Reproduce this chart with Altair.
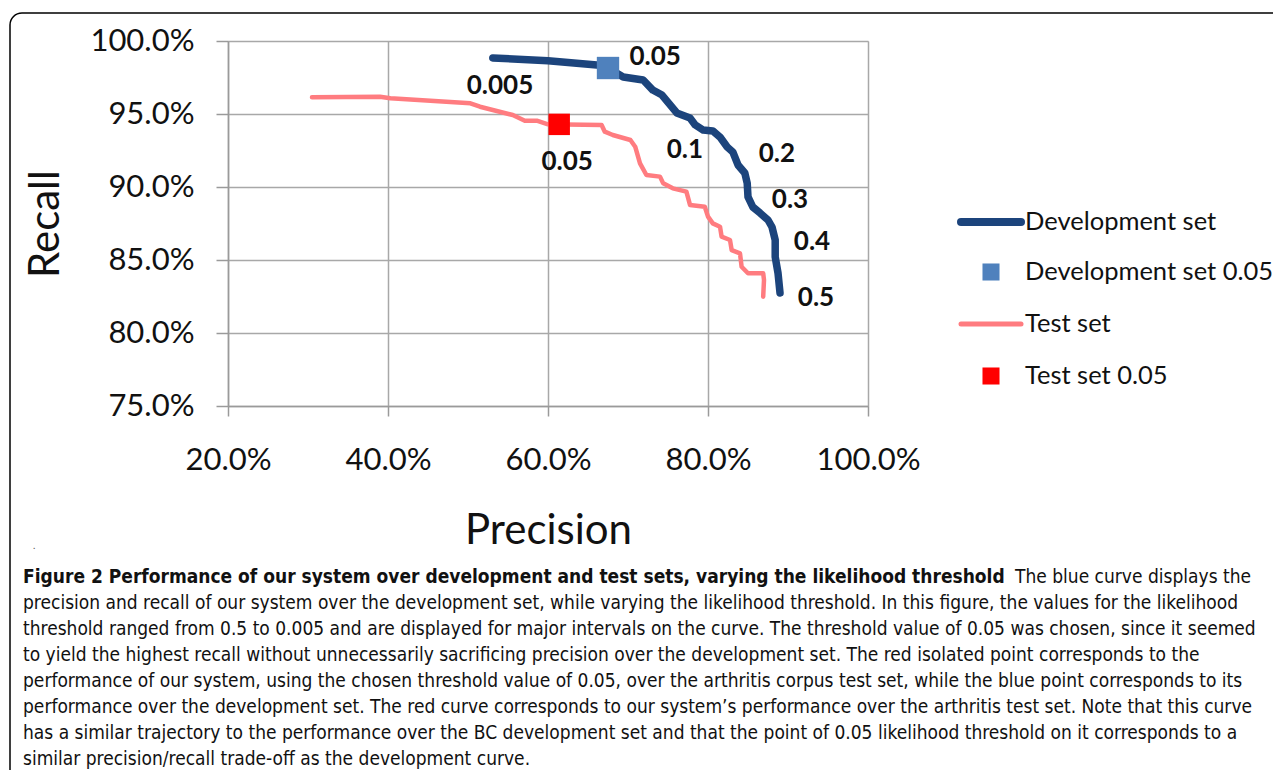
import altair as alt
import pandas as pd

# ---- data (precision, recall in %) ----
dev_precision = [53.1, 60.0, 66.1, 67.5, 69.4, 71.9, 73.1, 74.25, 76.1, 77.75, 78.4, 79.4, 80.6, 81.5,
                 82.4, 83.1, 83.75, 84.6, 84.9, 85.0, 85.6, 86.5, 87.5, 88.0, 88.4, 88.4, 88.75, 89.0]
dev_recall = [98.84, 98.65, 98.36, 98.15, 97.53, 97.33, 96.64, 96.30, 95.07, 94.73, 94.25, 93.90, 93.84, 93.42,
              92.74, 92.40, 91.51, 90.96, 90.27, 89.32, 88.63, 88.22, 87.74, 87.26, 86.37, 85.21, 84.11, 82.74]

test_precision = [30.5, 39.0, 40.3, 50.3, 51.5, 55.6, 57.1, 58.6, 60.0, 66.7, 67.1, 68.1, 70.3, 70.9, 71.5,
                  72.3, 74.0, 74.4, 75.6, 77.3, 77.75, 79.6, 80.0, 80.6, 81.5, 81.7, 82.75, 82.96, 84.0,
                  84.2, 85.0, 86.9, 87.0, 86.9]
test_recall = [96.15, 96.18, 96.08, 95.73, 95.50, 94.93, 94.54, 94.54, 94.29, 94.25, 93.79, 93.56, 93.22, 92.76,
               91.62, 90.82, 90.71, 90.25, 89.91, 89.68, 88.77, 88.65, 87.97, 87.51, 87.28, 86.60, 86.37, 85.68,
               85.45, 84.54, 84.09, 84.09, 83.63, 82.49]

point_series = ["Development set 0.05", "Test set 0.05"]
point_precision = [67.5, 61.4]
point_recall = [98.15, 94.29]

label_text = ["0.005", "0.05", "0.05", "0.1", "0.2", "0.3", "0.4", "0.5"]
label_precision = [54.0, 73.4, 62.4, 77.1, 88.6, 90.25, 93.0, 93.5]
label_recall = [96.92, 98.90, 91.71, 92.53, 92.26, 89.11, 86.23, 82.40]

legend_labels = ["Development set", "Development set 0.05", "Test set", "Test set 0.05"]

caption_bold = "Figure 2 Performance of our system over development and test sets, varying the likelihood threshold"
caption_first_rest = "The blue curve displays the"
caption_lines = [
    "precision and recall of our system over the development set, while varying the likelihood threshold. In this figure, the values for the likelihood",
    "threshold ranged from 0.5 to 0.005 and are displayed for major intervals on the curve. The threshold value of 0.05 was chosen, since it seemed",
    "to yield the highest recall without unnecessarily sacrificing precision over the development set. The red isolated point corresponds to the",
    "performance of our system, using the chosen threshold value of 0.05, over the arthritis corpus test set, while the blue point corresponds to its",
    "performance over the development set. The red curve corresponds to our system\u2019s performance over the arthritis test set. Note that this curve",
    "has a similar trajectory to the performance over the BC development set and that the point of 0.05 likelihood threshold on it corresponds to a",
    "similar precision/recall trade-off as the development curve.",
]

# ---- tables ----
dev_df = pd.DataFrame({"p": [v / 100 for v in dev_precision], "r": [v / 100 for v in dev_recall],
                       "i": list(range(len(dev_precision)))})
test_df = pd.DataFrame({"p": [v / 100 for v in test_precision], "r": [v / 100 for v in test_recall],
                        "i": list(range(len(test_precision)))})
pts_df = pd.DataFrame({"s": point_series, "p": [v / 100 for v in point_precision],
                       "r": [v / 100 for v in point_recall]})
lab_df = pd.DataFrame({"t": label_text, "p": [v / 100 for v in label_precision],
                       "r": [v / 100 for v in label_recall]})

FONT = "Lato"
CAP_FONT = "DejaVu Sans Condensed"

xs = alt.Scale(domain=[0.2, 1.0], nice=False, zero=False)
ys = alt.Scale(domain=[0.75, 1.0], nice=False, zero=False)

X = alt.X("p:Q", scale=xs, axis=alt.Axis(
    values=[0.2, 0.4, 0.6, 0.8, 1.0], format=".1%", title="Precision", labelFlush=False,
    labelFont=FONT, labelFontSize=31, labelColor="#111", labelPadding=29,
    titleFont=FONT, titleFontSize=42, titleFontWeight="normal", titleColor="#111", titlePadding=35,
    tickSize=10, tickColor="#9a9a9a", domainColor="#9a9a9a", gridColor="#a8a8a8", grid=True,
    domainWidth=1.5, tickWidth=1.5, gridWidth=1.5))
Y = alt.Y("r:Q", scale=ys, axis=alt.Axis(
    values=[0.75, 0.8, 0.85, 0.9, 0.95, 1.0], format=".1%", title="Recall", labelFlush=False,
    labelFont=FONT, labelFontSize=31, labelColor="#111", labelPadding=22,
    titleFont=FONT, titleFontSize=42, titleFontWeight="normal", titleColor="#111", titlePadding=22,
    tickSize=12, tickColor="#9a9a9a", domainColor="#9a9a9a", gridColor="#a8a8a8", grid=True,
    domainWidth=1.5, tickWidth=1.5, gridWidth=1.5))

test_line = alt.Chart(test_df).mark_line(color="#FF7C80", strokeWidth=4.5, strokeCap="round",
                                         strokeJoin="round").encode(x=X, y=Y, order="i:Q")
dev_line = alt.Chart(dev_df).mark_line(color="#1C447C", strokeWidth=7.5, strokeCap="round",
                                       strokeJoin="round").encode(x=X, y=Y, order="i:Q")
points = alt.Chart(pts_df).mark_square(opacity=1).encode(
    x=X, y=Y,
    color=alt.Color("s:N", scale=alt.Scale(domain=point_series, range=["#4F81BD", "#FF0000"]), legend=None),
    size=alt.Size("s:N", scale=alt.Scale(domain=point_series, range=[500, 460]), legend=None))
labels = alt.Chart(lab_df).mark_text(font=FONT, fontSize=26, fontWeight="bold", color="#111",
                                     align="center", baseline="middle").encode(x=X, y=Y, text="t:N")

one = alt.Data(values=[{"a": 1}])

# ---- legend (manual, pixel positions relative to plot area) ----
LX0, LX1, LT = 733, 793, 797
rows = [181, 231, 283, 335]
leg = [
    alt.Chart(one).mark_rule(color="#1C447C", strokeWidth=8, strokeCap="round").encode(
        x=alt.value(LX0), x2=alt.value(LX1), y=alt.value(rows[0])),
    alt.Chart(one).mark_square(color="#4F81BD", opacity=1, size=290).encode(
        x=alt.value((LX0 + LX1) / 2), y=alt.value(rows[1])),
    alt.Chart(one).mark_rule(color="#FF7C80", strokeWidth=5, strokeCap="round").encode(
        x=alt.value(LX0), x2=alt.value(LX1), y=alt.value(rows[2])),
    alt.Chart(one).mark_square(color="#FF0000", opacity=1, size=290).encode(
        x=alt.value((LX0 + LX1) / 2), y=alt.value(rows[3])),
]
for lab, ry in zip(legend_labels, rows):
    leg.append(alt.Chart(one).mark_text(font=FONT, fontSize=25.5, color="#111", align="left",
                                        baseline="middle", text=lab).encode(
        x=alt.value(LT), y=alt.value(ry)))

# ---- caption and frame ----
CS = 19
cap = [
    alt.Chart(one).mark_rect(fill="white", fillOpacity=0, stroke="#000", strokeWidth=1.5,
                             cornerRadius=12).encode(
        x=alt.value(-218), x2=alt.value(1300), y=alt.value(-28), y2=alt.value(800)),
    alt.Chart(one).mark_text(font=CAP_FONT, fontSize=CS, fontWeight="bold", color="#111", align="left",
                             baseline="middle", text=caption_bold).encode(
        x=alt.value(-205), y=alt.value(536)),
    alt.Chart(one).mark_text(font=CAP_FONT, fontSize=CS, color="#111", align="left",
                             baseline="middle", text=caption_first_rest).encode(
        x=alt.value(787), y=alt.value(536)),
    alt.Chart(one).mark_text(font=CAP_FONT, fontSize=CS, color="#111", align="left",
                             baseline="middle", lineHeight=26, text=caption_lines).encode(
        x=alt.value(-205), y=alt.value(562)),
    alt.Chart(one).mark_text(font=FONT, fontSize=10, color="#555", align="left", baseline="middle",
                             text=".").encode(x=alt.value(-195), y=alt.value(505)),
]

chart = alt.layer(*cap, test_line, dev_line, points, labels, *leg).properties(
    width=640, height=365,
    autosize=alt.AutoSizeParams(type="none"),
    padding={"left": 220, "top": 33, "right": 405, "bottom": 364},
).configure_view(stroke=None).configure(background="white")

chart.save("out.html", embed_options={"renderer": "svg", "actions": False})
